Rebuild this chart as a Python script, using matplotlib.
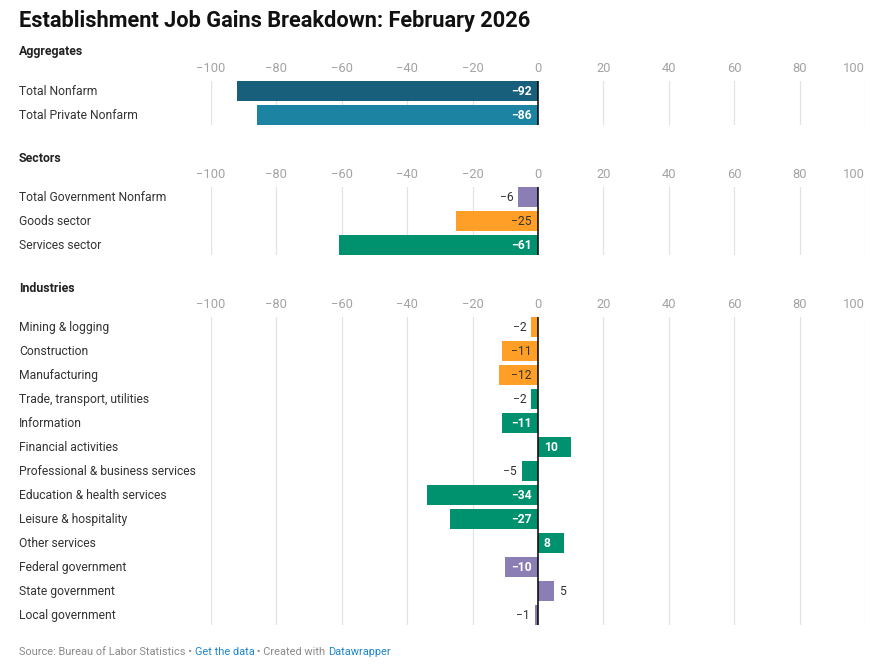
import numpy as np
import matplotlib
matplotlib.use("Agg")
from matplotlib import pyplot as plt
from matplotlib.transforms import blended_transform_factory

plt.rcParams['font.family'] = ['Roboto', 'DejaVu Sans']

# data
agg_names = ["Total Nonfarm", "Total Private Nonfarm"]
agg_vals = [-92, -86]
sec_names = ["Total Government Nonfarm", "Goods sector", "Services sector"]
sec_vals = [-6, -25, -61]
ind_names = ["Mining & logging", "Construction", "Manufacturing",
             "Trade, transport, utilities", "Information", "Financial activities",
             "Professional & business services", "Education & health services",
             "Leisure & hospitality", "Other services", "Federal government",
             "State government", "Local government"]
ind_vals = [-2, -11, -12, -2, -11, 10, -5, -34, -27, 8, -10, 5, -1]
ticks = [-100, -80, -60, -40, -20, 0, 20, 40, 60, 80, 100]

C_DARK = "#175f7a"
C_BLUE = "#1d83a3"
C_PURP = "#8b7eb4"
C_ORNG = "#ff9f27"
C_GRN = "#00916f"

agg_cols = [C_DARK, C_BLUE]
sec_cols = [C_PURP, C_ORNG, C_GRN]
ind_cols = [C_ORNG, C_ORNG, C_ORNG, C_GRN, C_GRN, C_GRN, C_GRN, C_GRN, C_GRN, C_GRN,
            C_PURP, C_PURP, C_PURP]

W, H = 886, 668
fig = plt.figure(figsize=(W / 100, H / 100), dpi=100)
fig.patch.set_facecolor("white")

X0, X1 = 211, 865  # pixel positions of -100 and 100
PITCH = 24
BARH = 20
FS = 8.7


def fmt(v):
    return ("\u2212" + str(-v)) if v < 0 else str(v)


def section(title, title_y, first_y, names, vals, cols):
    n = len(names)
    top = first_y - BARH / 2
    height = (n - 1) * PITCH + BARH
    ax = fig.add_axes([X0 / W, 1 - (top + height) / H, (X1 - X0) / W, height / H])
    h = BARH / PITCH
    ax.set_xlim(-100, 100)
    ax.set_ylim(n - 1 + h / 2, -h / 2)
    y = np.arange(n)
    ax.barh(y, vals, height=h, color=cols, zorder=2)
    ax.axvline(0, color="black", lw=1.1, zorder=3)
    for t in ticks:
        if t != 0:
            ax.axvline(t, color="#e3e3e3", lw=0.9, zorder=1)
    ax.set_xticks([])
    ax.set_yticks([])
    for s in ax.spines.values():
        s.set_visible(False)
    ax.patch.set_alpha(0)

    # tick labels on top, drawn by hand so the last one can sit right-aligned
    ty = 1 - (first_y - 22) / H
    trx = blended_transform_factory(ax.transData, fig.transFigure)
    for t in ticks:
        ax.text(t, ty, fmt(t), transform=trx, ha="right" if t == 100 else "center",
                va="center", fontsize=9.3, color="#a3a3a3")

    tr = blended_transform_factory(fig.transFigure, ax.transData)
    for i, (nm, v, c) in enumerate(zip(names, vals, cols)):
        ax.text(19 / W, i + 0.03, nm, transform=tr, ha="left", va="center",
                fontsize=FS, color="#333333")
        txt = fmt(v)
        inside = abs(v) >= 8
        if inside:
            tc = "#333333" if c == C_ORNG else "white"
            fw = "normal" if c == C_ORNG else "bold"
            if v < 0:
                ax.text(-1.8, i + 0.03, txt, ha="right", va="center", fontsize=FS,
                        color=tc, fontweight=fw, zorder=4)
            else:
                ax.text(1.8, i + 0.03, txt, ha="left", va="center", fontsize=FS,
                        color=tc, fontweight=fw, zorder=4)
        else:
            if v < 0:
                ax.text(v - 1.5, i + 0.03, txt, ha="right", va="center", fontsize=FS,
                        color="#333333", zorder=4)
            else:
                ax.text(v + 1.5, i + 0.03, txt, ha="left", va="center", fontsize=FS,
                        color="#333333", zorder=4)
    fig.text(19 / W, 1 - (title_y + 1.5) / H, title, ha="left", va="center",
             fontsize=8.9, fontweight="bold", color="#222222")
    return ax


section("Aggregates", 50, 91, agg_names, agg_vals, agg_cols)
section("Sectors", 157, 197, sec_names, sec_vals, sec_cols)
section("Industries", 287, 327, ind_names, ind_vals, ind_cols)

fig.text(19 / W, 1 - 21.5 / H, "Establishment Job Gains Breakdown: February 2026",
         ha="left", va="center", fontsize=15.7, fontweight="bold", color="#111111")

# footer
src_y = 1 - 652 / H
parts = [("Source: Bureau of Labor Statistics \u2022 ", "#8a8a8a"),
         ("Get the data", "#1d87c9"),
         (" \u2022 Created with ", "#8a8a8a"),
         ("Datawrapper", "#1d87c9")]
fig.canvas.draw()
xpos = 19 / W
for s, c in parts:
    t = fig.text(xpos, src_y, s, ha="left", va="center", fontsize=7.9, color=c)
    bb = t.get_window_extent(renderer=fig.canvas.get_renderer())
    xpos += bb.width / W

fig.savefig("out.png", dpi=100, facecolor="white")
